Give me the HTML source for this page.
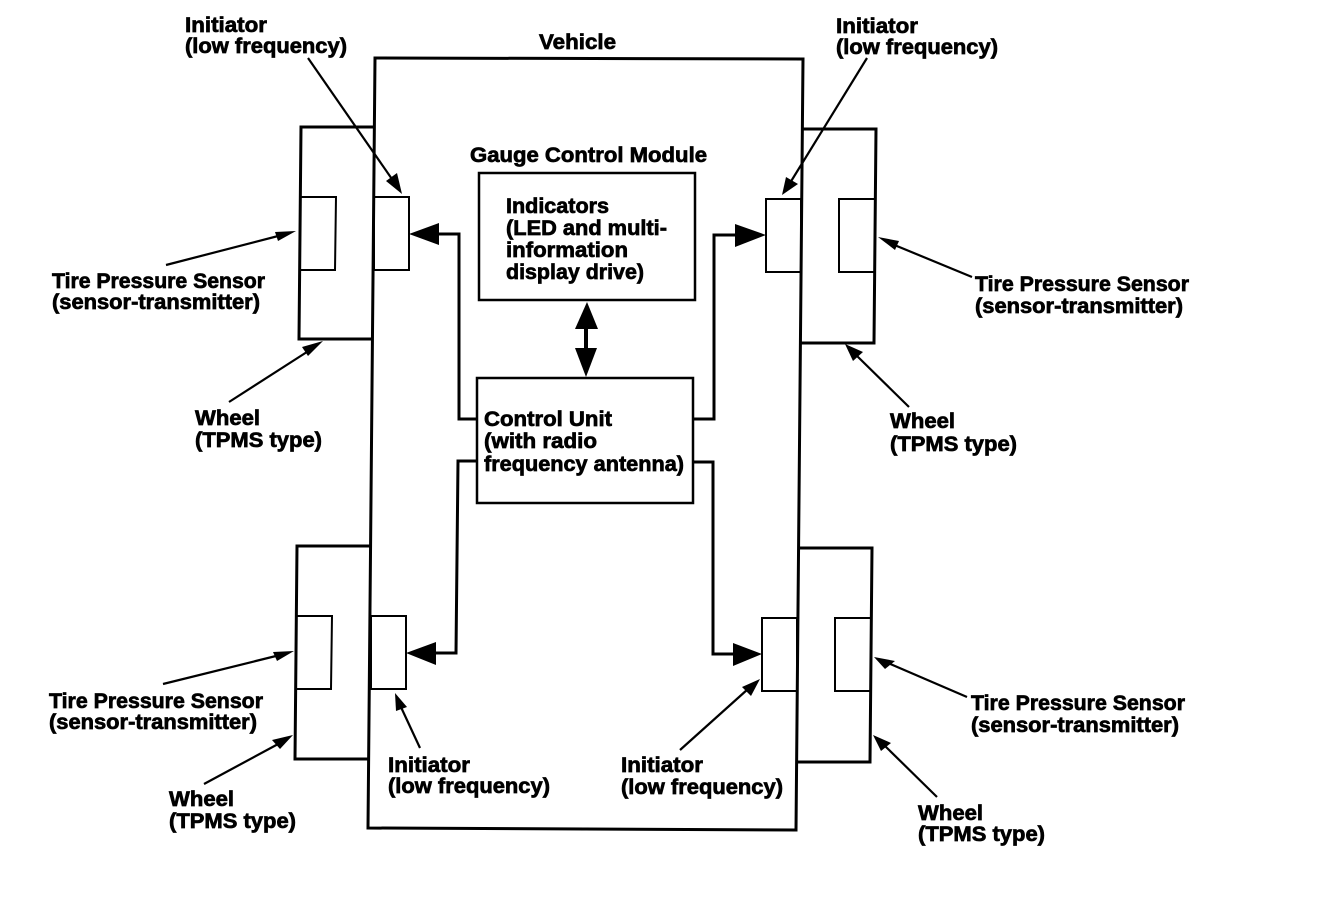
<!DOCTYPE html>
<html><head><meta charset="utf-8"><style>
html,body{margin:0;padding:0;background:#fff}
svg{display:block}
text{font-family:"Liberation Sans",sans-serif;font-size:21px;font-weight:bold;fill:#000;stroke:#000;stroke-width:.7px}
.l{fill:none;stroke:#000;stroke-width:3}
.c{fill:none;stroke:#000;stroke-width:3}
.t{fill:none;stroke:#000;stroke-width:2}
.a{fill:#000;stroke:none}
</style></head><body>
<svg width="1328" height="916" viewBox="0 0 1328 916" xmlns="http://www.w3.org/2000/svg">
<!-- vehicle -->
<polygon class="l" points="375,58 803,59 796,830 368,828"/>
<!-- wheels -->
<polyline class="l" points="374,127 301,127 299,339 372,339"/>
<polyline class="l" points="803,129 876,129 874,343 801,343"/>
<polyline class="l" points="370,546 297,546 295,759 368,759"/>
<polyline class="l" points="799,548 872,548 870,762 797,762"/>
<!-- sensors -->
<polyline class="t" points="301,197 336,197 335,270 300,270"/>
<polyline class="t" points="875,199 839,199 839,272 874,272"/>
<polyline class="t" points="297,616 332,616 331,689 296,689"/>
<polyline class="t" points="871,618 835,618 835,691 870,691"/>
<!-- initiators -->
<rect class="t" x="374" y="197" width="35" height="73"/>
<rect class="t" x="766" y="199" width="35" height="73"/>
<rect class="t" x="371" y="616" width="35" height="73"/>
<rect class="t" x="762" y="618" width="35" height="73"/>
<!-- central boxes -->
<rect class="t" style="stroke-width:2.5" x="479" y="173" width="216" height="127"/>
<rect class="t" style="stroke-width:2.5" x="477" y="378" width="216" height="125"/>
<!-- connectors -->
<polyline class="c" points="477,419 459,419 459,234 438,234"/>
<polygon class="a" points="409,234 439,223 439,245"/>
<polyline class="c" points="694,419 714,419 714,235 738,235"/>
<polygon class="a" points="766,235 735,224 735,247"/>
<polyline class="c" points="477,461 458,461 456,653 434,653"/>
<polygon class="a" points="406,653 436,642 436,665"/>
<polyline class="c" points="694,462 713,462 713,654 735,654"/>
<polygon class="a" points="762,654 733,643 733,666"/>
<line x1="586" y1="325" x2="586" y2="352" stroke="#000" stroke-width="4"/>
<polygon class="a" points="587,302 575,329 598,329"/>
<polygon class="a" points="586,377 575,348 597,348"/>
<!-- leaders -->
<g fill="none" stroke="#000" stroke-width="2.2">
<line x1="308" y1="58" x2="394" y2="182"/>
<line x1="867" y1="58" x2="790" y2="183"/>
<line x1="166" y1="265" x2="282" y2="235"/>
<line x1="972" y1="277" x2="892" y2="244"/>
<line x1="229" y1="402" x2="310" y2="350"/>
<line x1="909" y1="407" x2="855" y2="354"/>
<line x1="163" y1="684" x2="280" y2="655"/>
<line x1="967" y1="697" x2="888" y2="663"/>
<line x1="204" y1="784" x2="280" y2="743"/>
<line x1="937" y1="797" x2="884" y2="745"/>
<line x1="420" y1="748" x2="400" y2="705"/>
<line x1="680" y1="750" x2="748" y2="689"/>
</g>
<g class="a">
<polygon points="402,194 386,181 397,173"/>
<polygon points="782,195 786,177 798,184"/>
<polygon points="296,231 275,232 278,241"/>
<polygon points="878,237 895,250 899,241"/>
<polygon points="323,341 302,347 308,356"/>
<polygon points="845,344 853,361 863,352"/>
<polygon points="294,651 273,652 277,661"/>
<polygon points="874,657 885,669 895,661"/>
<polygon points="293,735 272,740 280,749"/>
<polygon points="873,735 881,751 891,743"/>
<polygon points="395,693 396,711 407,707"/>
<polygon points="760,679 742,687 751,696"/>
</g>
<!-- labels -->
<text x="539" y="49" textLength="77" lengthAdjust="spacingAndGlyphs">Vehicle</text>
<text x="185" y="32" textLength="82" lengthAdjust="spacingAndGlyphs">Initiator</text><text x="185" y="53" textLength="162" lengthAdjust="spacingAndGlyphs">(low frequency)</text>
<text x="836" y="33" textLength="82" lengthAdjust="spacingAndGlyphs">Initiator</text><text x="836" y="54" textLength="162" lengthAdjust="spacingAndGlyphs">(low frequency)</text>
<text x="470" y="162" textLength="237" lengthAdjust="spacingAndGlyphs">Gauge Control Module</text>
<text x="506" y="213" textLength="103" lengthAdjust="spacingAndGlyphs">Indicators</text>
<text x="506" y="235" textLength="161" lengthAdjust="spacingAndGlyphs">(LED and multi-</text>
<text x="506" y="257" textLength="122" lengthAdjust="spacingAndGlyphs">information</text>
<text x="506" y="279" textLength="138" lengthAdjust="spacingAndGlyphs">display drive)</text>
<text x="484" y="426" textLength="128" lengthAdjust="spacingAndGlyphs">Control Unit</text>
<text x="484" y="448" textLength="113" lengthAdjust="spacingAndGlyphs">(with radio</text>
<text x="484" y="471" textLength="200" lengthAdjust="spacingAndGlyphs">frequency antenna)</text>
<text x="52" y="288" textLength="213" lengthAdjust="spacingAndGlyphs">Tire Pressure Sensor</text><text x="52" y="309" textLength="208" lengthAdjust="spacingAndGlyphs">(sensor-transmitter)</text>
<text x="975" y="291" textLength="214" lengthAdjust="spacingAndGlyphs">Tire Pressure Sensor</text><text x="975" y="313" textLength="208" lengthAdjust="spacingAndGlyphs">(sensor-transmitter)</text>
<text x="49" y="708" textLength="214" lengthAdjust="spacingAndGlyphs">Tire Pressure Sensor</text><text x="49" y="729" textLength="208" lengthAdjust="spacingAndGlyphs">(sensor-transmitter)</text>
<text x="971" y="710" textLength="214" lengthAdjust="spacingAndGlyphs">Tire Pressure Sensor</text><text x="971" y="732" textLength="208" lengthAdjust="spacingAndGlyphs">(sensor-transmitter)</text>
<text x="195" y="425" textLength="65" lengthAdjust="spacingAndGlyphs">Wheel</text><text x="195" y="447" textLength="127" lengthAdjust="spacingAndGlyphs">(TPMS type)</text>
<text x="890" y="428" textLength="65" lengthAdjust="spacingAndGlyphs">Wheel</text><text x="890" y="451" textLength="127" lengthAdjust="spacingAndGlyphs">(TPMS type)</text>
<text x="169" y="806" textLength="65" lengthAdjust="spacingAndGlyphs">Wheel</text><text x="169" y="828" textLength="127" lengthAdjust="spacingAndGlyphs">(TPMS type)</text>
<text x="918" y="820" textLength="65" lengthAdjust="spacingAndGlyphs">Wheel</text><text x="918" y="841" textLength="127" lengthAdjust="spacingAndGlyphs">(TPMS type)</text>
<text x="388" y="772" textLength="82" lengthAdjust="spacingAndGlyphs">Initiator</text><text x="388" y="793" textLength="162" lengthAdjust="spacingAndGlyphs">(low frequency)</text>
<text x="621" y="772" textLength="82" lengthAdjust="spacingAndGlyphs">Initiator</text><text x="621" y="794" textLength="162" lengthAdjust="spacingAndGlyphs">(low frequency)</text>
</svg>
</body></html>
